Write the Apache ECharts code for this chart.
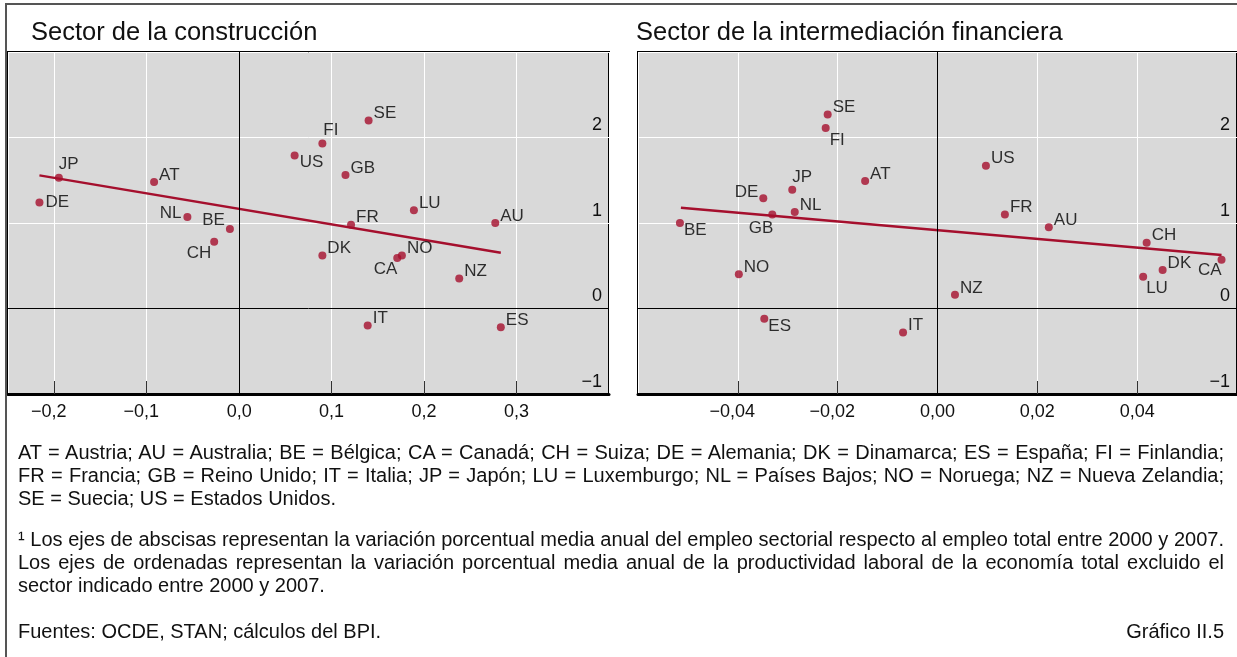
<!DOCTYPE html>
<html>
<head>
<meta charset="utf-8">
<script src="https://cdn.jsdelivr.net/npm/echarts@6/dist/echarts.min.js"></script>
<style>
  html, body { margin: 0; padding: 0; background: #fff; }
  .page { position: relative; width: 1237px; height: 657px; overflow: hidden; }
  .frameL { position: absolute; left: 5px; top: 3px; width: 2px; height: 654px; background: #555; }
  .frameT { position: absolute; left: 5px; top: 3px; width: 1232px; height: 2px; background: #555; }
  #chart { position: absolute; left: 0; top: 0; width: 1237px; height: 657px; }
  .notes { position: absolute; left: 18px; width: 1206px; font-family: 'Liberation Sans', Arial, sans-serif; font-size: 20px; line-height: 23px; color: #111; }
  .notes div { white-space: nowrap; }
  .notes .j { text-align: justify; text-align-last: justify; }
</style>
</head>
<body>
<div class="page">
  <div id="chart"></div>
  <div class="frameL"></div>
  <div class="frameT"></div>
  <div class="notes" style="top:441px">
    <div class="j">AT = Austria; AU = Australia; BE = Bélgica; CA = Canadá; CH = Suiza; DE = Alemania; DK = Dinamarca; ES = España; FI = Finlandia;</div>
    <div class="j">FR = Francia; GB = Reino Unido; IT = Italia; JP = Japón; LU = Luxemburgo; NL = Países Bajos; NO = Noruega; NZ = Nueva Zelandia;</div>
    <div>SE = Suecia; US = Estados Unidos.</div>
  </div>
  <div class="notes" style="top:528px">
    <div class="j">¹ Los ejes de abscisas representan la variación porcentual media anual del empleo sectorial respecto al empleo total entre 2000 y 2007.</div>
    <div class="j">Los ejes de ordenadas representan la variación porcentual media anual de la productividad laboral de la economía total excluido el</div>
    <div>sector indicado entre 2000 y 2007.</div>
  </div>
  <div class="notes" style="top:620px">
    <div style="position:relative">Fuentes: OCDE, STAN; cálculos del BPI.<span style="position:absolute;right:0">Gráfico II.5</span></div>
  </div>
</div>
<script>
  // Sector de la construcción
  const consCodes = ['DE', 'JP', 'AT', 'NL', 'BE', 'CH', 'US', 'FI', 'SE', 'GB', 'FR', 'DK', 'CA', 'NO', 'LU', 'AU', 'NZ', 'IT', 'ES'];
  const consX = [-0.216, -0.195, -0.092, -0.056, -0.010, -0.027, 0.060, 0.090, 0.140, 0.115, 0.121, 0.090, 0.171, 0.176, 0.189, 0.277, 0.238, 0.139, 0.283];
  const consY = [1.24, 1.53, 1.48, 1.07, 0.93, 0.78, 1.79, 1.93, 2.20, 1.56, 0.98, 0.62, 0.59, 0.62, 1.15, 1.00, 0.35, -0.20, -0.22];
  const consTrendX = [-0.216, 0.283];
  const consTrendY = [1.557, 0.652];

  // Sector de la intermediación financiera
  const finCodes = ['BE', 'NO', 'DE', 'GB', 'ES', 'JP', 'NL', 'SE', 'FI', 'AT', 'IT', 'NZ', 'US', 'FR', 'AU', 'CH', 'LU', 'DK', 'CA'];
  const finX = [-0.0516, -0.0398, -0.0349, -0.0331, -0.0347, -0.0291, -0.0286, -0.0220, -0.0224, -0.0145, -0.0069, 0.0035, 0.0097, 0.0135, 0.0223, 0.0419, 0.0412, 0.0451, 0.0569];
  const finY = [1.00, 0.40, 1.29, 1.10, -0.12, 1.39, 1.13, 2.27, 2.11, 1.49, -0.28, 0.16, 1.67, 1.10, 0.95, 0.77, 0.37, 0.45, 0.57];
  const finTrendX = [-0.0514, 0.0569];
  const finTrendY = [1.177, 0.625];

  // label placement: [dx, dy, align] relative to the dot centre
  const consPlace = { FI: [1, -13], US: [5, 7], JP: [0, -13], DE: [6, 0], NL: [-6, -4, 'right'], BE: [-5, -9, 'right'], CH: [-3, 12, 'right'], CA: [0, 11, 'right'] };
  const finPlace = { FI: [4, 12], JP: [0, -12], DE: [-5, -6, 'right'], GB: [1, 14, 'right'], BE: [4, 7], LU: [3, 11], CA: [0, 11, 'right'], ES: [4, 8] };

  const red = '#a50f2d';
  const font = "'Liberation Sans', Arial, sans-serif";
  const dot = 8;

  function points(codes, xs, ys, place) {
    return codes.map((c, i) => {
      const p = place[c] || [5, -7];
      return {
        name: c,
        value: [xs[i], ys[i]],
        label: {
          position: [dot / 2 + p[0], dot / 2 + p[1]],
          align: p[2] || 'left'
        }
      };
    });
  }

  // negative tick labels: digits centred on the tick, minus sign hanging left
  function fmt(dec, hang) {
    return v => {
      const s = Math.abs(v).toFixed(dec).replace('.', ',');
      if (v < -1e-9) return hang ? '\u2212' + s + '{p|}' : '\u2212' + s;
      return s;
    };
  }

  function xAxisOf(gi, min, max, dec) {
    return {
      type: 'value', gridIndex: gi, min: min, max: max, splitNumber: 6,
      axisLine: { show: true, onZero: false, lineStyle: { color: '#000', width: 3 } },
      axisTick: { show: true, inside: true, length: 13, lineStyle: { color: '#333', width: 1 } },
      splitLine: { show: true, lineStyle: { color: '#fff', width: 1 } },
      axisLabel: {
        showMinLabel: false, showMaxLabel: false, margin: 9, fontSize: 18, fontFamily: font, color: '#111',
        formatter: fmt(dec, true), rich: { p: { width: 11 } }
      }
    };
  }

  function yAxisOf(gi) {
    return {
      type: 'value', gridIndex: gi, position: 'right', min: -1, max: 3, interval: 1,
      axisLine: { show: false }, axisTick: { show: false },
      splitLine: { show: true, lineStyle: { color: '#fff', width: 1 } },
      axisLabel: { inside: true, showMaxLabel: false, margin: 7, verticalAlign: 'bottom', padding: [0, 0, 3, 0], fontSize: 18, fontFamily: font, color: '#111', formatter: fmt(0, false) }
    };
  }

  function seriesOf(gi, codes, xs, ys, place, tx, ty) {
    return [{
      type: 'line', xAxisIndex: gi, yAxisIndex: gi, z: 2,
      data: tx.map((x, i) => [x, ty[i]]),
      showSymbol: false, silent: true,
      lineStyle: { color: red, width: 2.5 },
      markLine: {
        silent: true, symbol: 'none', label: { show: false },
        lineStyle: { color: '#000', width: 1, type: 'solid' },
        data: [{ xAxis: 0 }, { yAxis: 0 }]
      }
    }, {
      type: 'scatter', xAxisIndex: gi, yAxisIndex: gi, z: 3,
      symbolSize: dot,
      itemStyle: { color: red },
      label: { show: true, formatter: '{b}', verticalAlign: 'middle', fontSize: 17, fontFamily: font, color: '#000' },
      data: points(codes, xs, ys, place)
    }];
  }

  const titleStyle = { fontSize: 25.5, fontWeight: 'normal', fontFamily: font, color: '#111' };
  const chart = echarts.init(document.getElementById('chart'), null, { renderer: 'canvas' });
  chart.setOption({
    animation: false,
    title: [
      { text: 'Sector de la construcción', left: 31, top: 20, padding: 0, textStyle: titleStyle },
      { text: 'Sector de la intermediación financiera', left: 636, top: 20, padding: 0, textStyle: titleStyle }
    ],
    grid: [
      { left: 8, right: 628, top: 52, bottom: 263, show: true, backgroundColor: '#d9d9d9', borderColor: '#000', borderWidth: 2 },
      { left: 638, right: -3, top: 52, bottom: 263, show: true, backgroundColor: '#d9d9d9', borderColor: '#000', borderWidth: 2 }
    ],
    xAxis: [xAxisOf(0, -0.25, 0.4, 1), xAxisOf(1, -0.06, 0.06, 2)],
    yAxis: [yAxisOf(0), yAxisOf(1)],
    series: [
      ...seriesOf(0, consCodes, consX, consY, consPlace, consTrendX, consTrendY),
      ...seriesOf(1, finCodes, finX, finY, finPlace, finTrendX, finTrendY)
    ]
  });
</script>
</body>
</html>
